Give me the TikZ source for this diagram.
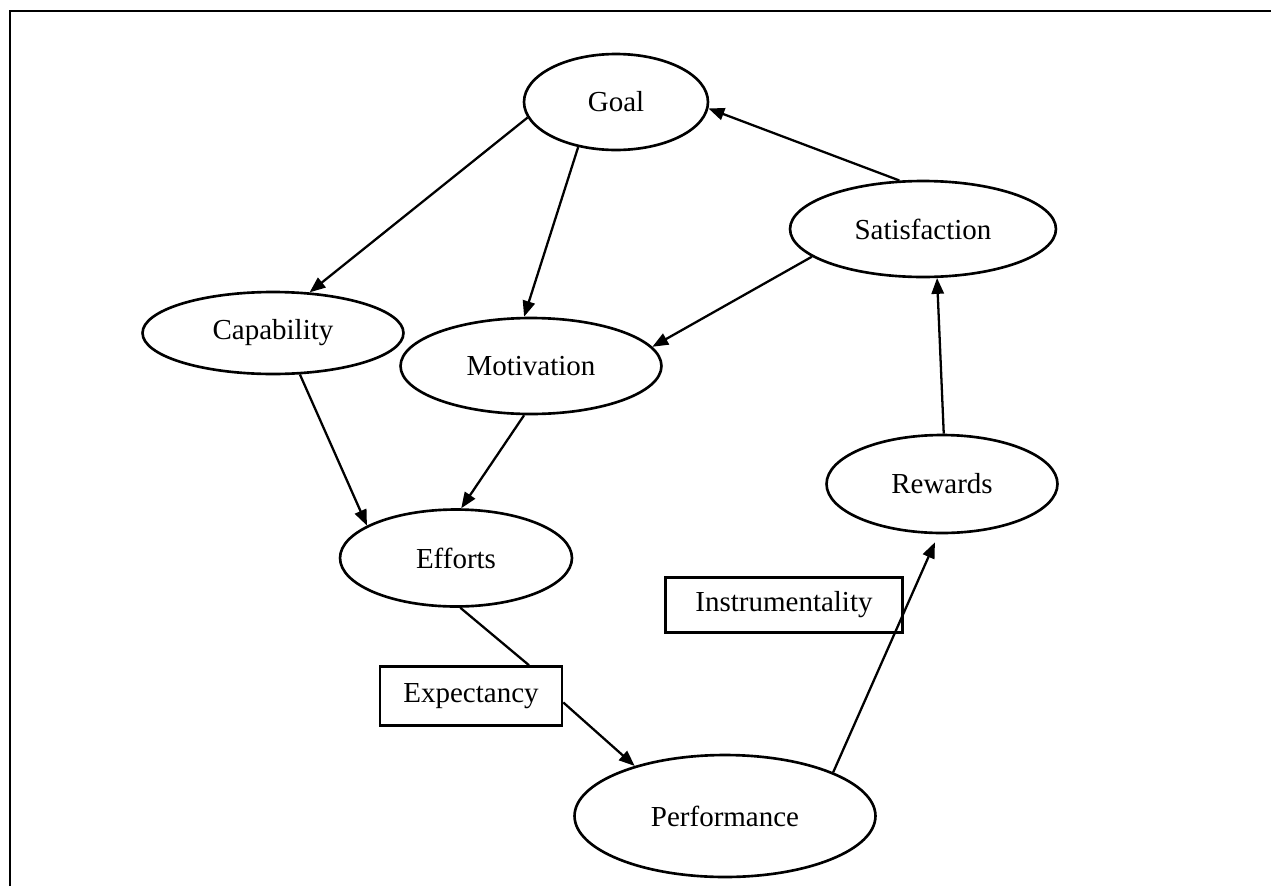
\documentclass[tikz,border=0pt]{standalone}
\usepackage{fontspec}
\setmainfont{Liberation Serif}
\usetikzlibrary{shapes.geometric, arrows.meta}

\begin{document}
\begin{tikzpicture}[x=0.02cm, y=-0.02cm,
		stage/.style={ellipse, draw, line width=1.5pt, inner sep=0pt, font=\fontsize{16.5}{20}\selectfont},
		tag/.style={rectangle, draw, line width=1.5pt, inner sep=0pt, font=\fontsize{16.5}{20}\selectfont},
		link/.style={line width=1.3pt},
		arr/.style={link, -{Triangle[length=9pt,width=7pt]}}]
		\useasboundingbox (0,0) rectangle (1271,886);

		% Frame (only the left and top sides are on the page)
		\draw[line width=1.7pt] (10,886) -- (10,11) -- (1271,11);

		% Stages
		\node[stage, minimum width=3.68cm, minimum height=1.92cm] (goal)    at (616,102) {Goal};
		\node[stage, minimum width=5.32cm, minimum height=1.92cm] (satis)   at (923,229) {Satisfaction};
		\node[stage, minimum width=5.22cm, minimum height=1.64cm] (capab)   at (273,333) {Capability};
		\node[stage, minimum width=5.22cm, minimum height=1.92cm] (motiv)   at (531,366) {Motivation};
		\node[stage, minimum width=4.62cm, minimum height=1.96cm] (rewards) at (942,484) {Rewards};
		\node[stage, minimum width=4.64cm, minimum height=1.94cm] (efforts) at (456,558) {Efforts};
		\node[stage, minimum width=6.02cm, minimum height=2.44cm] (perf)    at (725,816) {Performance};

		% Labels in boxes
		\node[tag, minimum width=3.64cm, minimum height=1.18cm] (expect) at (471,696) {Expectancy};
		\node[tag, minimum width=4.74cm, minimum height=1.10cm] (instr)  at (784,605) {Instrumentality};

		% Links
		\draw[arr] (goal.190) -- (capab.48);
		\draw[arr] (goal.230) -- (motiv.98);
		\draw[arr] (satis.116) -- (goal.356);
		\draw[arr] (satis.194) -- (motiv.9.5);
		\draw[arr] (capab.303) -- (efforts.160);
		\draw[arr] (motiv.262) -- (efforts.84);
		\draw[arr] (rewards.88) -- (satis.286);
		\draw[arr, shorten >=5pt] (perf.22) -- (rewards.266);
		\draw[link] (efforts.275) -- (expect.28.6);
		\draw[arr] (expect.356.5) -- (perf.151);
	\end{tikzpicture}
\end{document}
